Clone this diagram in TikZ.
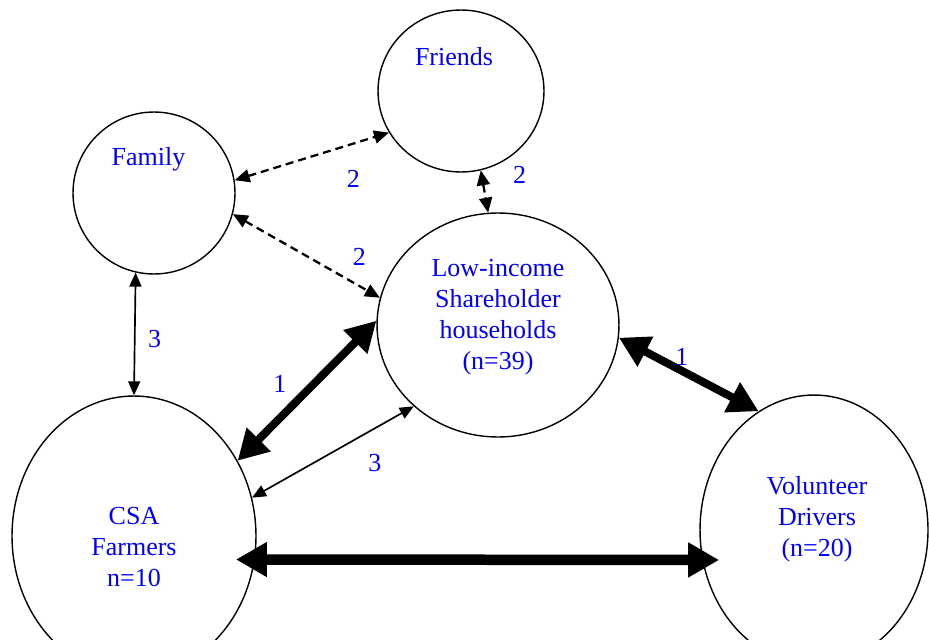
\documentclass[tikz,border=0pt]{standalone}
\usepackage{fontspec}
\setmainfont{Liberation Serif}
\usetikzlibrary{positioning, arrows.meta, shapes.geometric}

\begin{document}
\begin{tikzpicture}[x=0.02cm, y=-0.02cm,
        grp/.style={draw, ellipse, line width=0.8pt, inner sep=0pt},
        txt/.style={text=blue, align=center, font=\fontsize{14.8}{17.6}\selectfont},
        num/.style={text=blue, font=\fontsize{14.8}{17.6}\selectfont},
        dashlink/.style={{Triangle[length=0.3cm,width=0.26cm]}-{Triangle[length=0.3cm,width=0.26cm]}, line width=1.3pt, dash pattern=on 0.16cm off 0.1cm},
        thinlink/.style={{Triangle[length=0.28cm,width=0.24cm]}-{Triangle[length=0.28cm,width=0.24cm]}, line width=0.95pt},
        boldlink/.style={{Triangle[length=0.6cm,width=0.64cm]}-{Triangle[length=0.6cm,width=0.64cm]}, line width=0.16cm},
        heavylink/.style={{Triangle[length=0.62cm,width=0.66cm]}-{Triangle[length=0.62cm,width=0.66cm]}, line width=0.21cm}]
        \useasboundingbox (0,0) rectangle (929,639);

        % Define the nodes
        \node[grp, minimum width=3.32cm, minimum height=3.24cm, label={[txt, xshift=-0.14cm, yshift=0.68cm]center:Friends}] (fr) at (461,91) {};
        \node[grp, minimum width=3.24cm, minimum height=3.24cm, label={[txt, xshift=-0.11cm, yshift=0.68cm]center:Family}] (fam) at (154,193) {};
        \node[grp, minimum width=4.84cm, minimum height=4.48cm, label={[txt, yshift=0.16cm]center:Low-income\\Shareholder\\households\\(n=39)}] (low) at (498,325) {};
        \node[grp, minimum width=4.88cm, minimum height=5.6cm, label={[txt, yshift=-0.22cm]center:CSA\\Farmers\\n=10}] (csa) at (134,536) {};
        \node[grp, minimum width=4.56cm, minimum height=5.4cm, label={[txt, xshift=0.06cm, yshift=0.22cm]center:Volunteer\\Drivers\\(n=20)}] (vol) at (814,530) {};

        % Define the edges
        \draw[dashlink] (fam.9) -- node[num, pos=.77, yshift=-0.71cm] {2} (fr.210);
        \draw[dashlink] (fr.-76) -- node[num, pos=.1, xshift=0.76cm] {2} (low.95);
        \draw[dashlink] (fam.-15) -- node[num, pos=.86, yshift=0.58cm] {2} (low.167);

        \draw[thinlink] (fam.-103) -- node[num, pos=.54, xshift=0.4cm] {3} (csa.north);
        \draw[boldlink] (csa.36) -- node[num, pos=.55, xshift=-0.68cm] {1} (low.178);
        \draw[thinlink] (csa.18) -- node[num, pos=.76, yshift=-0.7cm] {3} (low.224);

        \draw[boldlink] (low.-6) -- node[num, pos=.45, yshift=0.28cm] {1} (vol.115);
        \draw[heavylink, shorten <=-0.38cm, shorten >=-0.34cm] (csa.-11) -- (vol.195);
    \end{tikzpicture}
\end{document}
